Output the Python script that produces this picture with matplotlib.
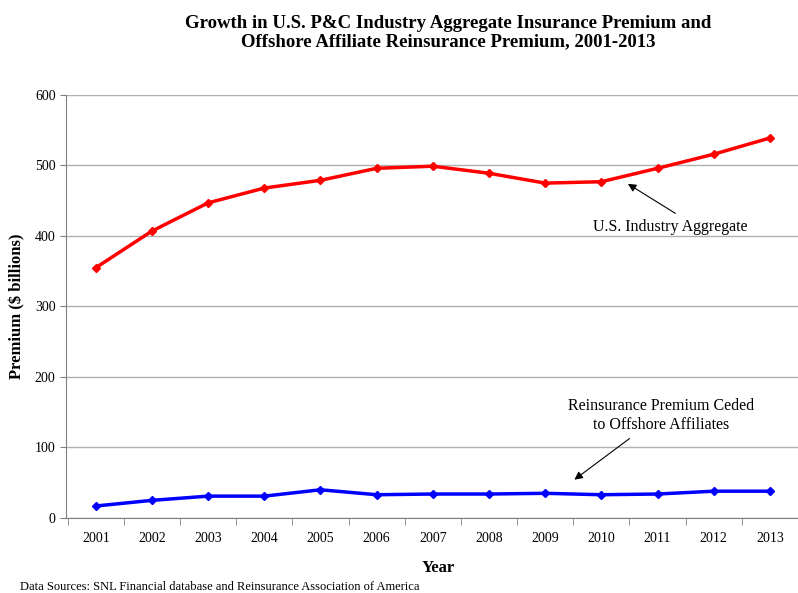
import numpy as np
import matplotlib.pyplot as plt

plt.rcParams['font.family'] = ['Liberation Serif', 'DejaVu Serif']

years = list(range(2001, 2014))
industry = [355, 407, 447, 468, 479, 496, 499, 489, 475, 477, 496, 516, 539]
offshore = [17, 25, 31, 31, 40, 33, 34, 34, 35, 33, 34, 38, 38]

fig = plt.figure(figsize=(7.98, 5.93), dpi=100)
ax = fig.add_axes([0.0827, 0.1265, 0.9173, 0.7133])

ax.plot(years, industry, color='#ff0000', lw=2.5, marker='D', ms=4.5, zorder=3)
ax.plot(years, offshore, color='#0000ff', lw=2.5, marker='D', ms=4.5, zorder=3)

ax.set_ylim(0, 600)
ax.set_yticks(range(0, 601, 100))
ax.set_xlim(2000.47, 2013.37)
ax.set_xticks(years)
ax.set_xticks(np.arange(2000.5, 2014, 1), minor=True)
ax.tick_params(axis='x', which='major', length=0, labelsize=10, pad=10)
ax.tick_params(axis='x', which='minor', length=5, direction='out', color='#808080')
ax.tick_params(axis='y', length=4, labelsize=10, color='#808080')
ax.grid(axis='y', color='#b0b0b0', lw=1)
ax.set_axisbelow(True)
for s in ['top', 'right']:
    ax.spines[s].set_visible(False)
ax.spines['left'].set_color('#808080')
ax.spines['bottom'].set_color('#808080')

ax.set_ylabel('Premium ($ billions)', fontsize=12, fontweight='bold')
ax.yaxis.set_label_coords(-0.067, 0.5)
ax.yaxis.label.set_va('center')
ax.set_xlabel('Year', fontsize=12, fontweight='bold')
ax.xaxis.set_label_coords(0.508, -0.118)
ax.xaxis.label.set_va('center')

fig.text(0.562, 0.945, 'Growth in U.S. P&C Industry Aggregate Insurance Premium and\n'
         'Offshore Affiliate Reinsurance Premium, 2001-2013',
         ha='center', va='center', fontsize=13.5, fontweight='bold', linespacing=1.15)
fig.text(0.025, 0.010, 'Data Sources: SNL Financial database and Reinsurance Association of America',
         fontsize=9, ha='left', va='center')

ax.annotate('', xy=(2010.43, 476), xytext=(2011.36, 430),
            arrowprops=dict(arrowstyle='-|>', color='black', lw=0.8, mutation_scale=12))
ax.text(2011.22, 413, 'U.S. Industry Aggregate', ha='center', va='center', fontsize=11.5)
ax.annotate('', xy=(2009.48, 52), xytext=(2010.54, 115),
            arrowprops=dict(arrowstyle='-|>', color='black', lw=0.8, mutation_scale=12))
ax.text(2011.07, 145, 'Reinsurance Premium Ceded\nto Offshore Affiliates',
        ha='center', va='center', fontsize=11.5, linespacing=1.25)

fig.savefig('out.png', dpi=100)
